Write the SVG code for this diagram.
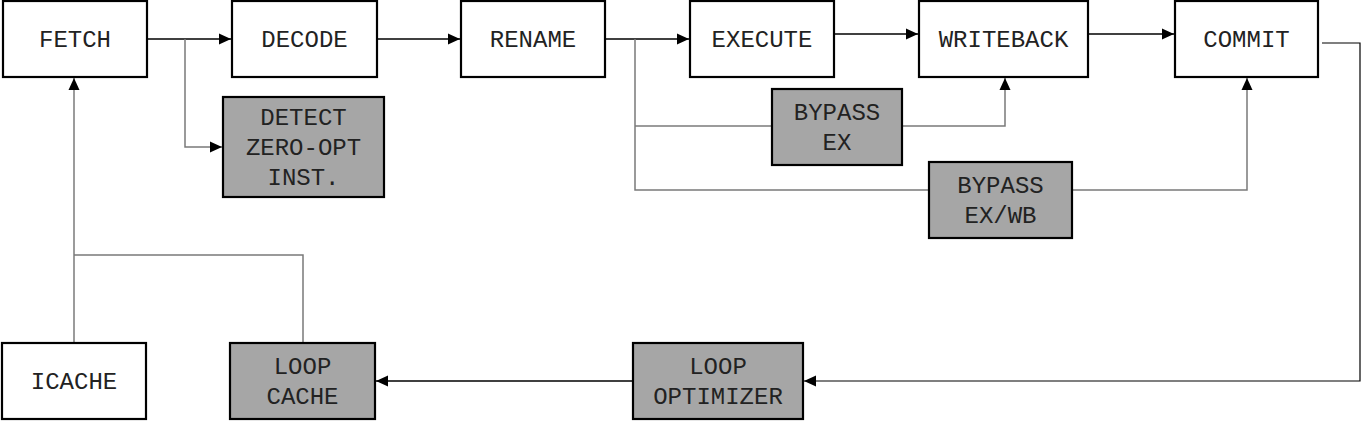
<svg xmlns="http://www.w3.org/2000/svg" width="1362" height="426" viewBox="0 0 1362 426">
<style>
.box{fill:#ffffff;stroke:#000000;stroke-width:2.2}
.opt{fill:#a6a6a6;stroke:#000000;stroke-width:2.2}
.lbl{font-family:"Liberation Mono","Courier New",monospace;font-size:24px;fill:#222222;text-anchor:middle}
.main{fill:none;stroke:#000000;stroke-width:1.5}
.side{fill:none;stroke:#7a7a7a;stroke-width:1.5}
.thin{fill:none;stroke:#000000;stroke-width:1.2}
</style>
<defs>
<marker id="ah" markerUnits="userSpaceOnUse" markerWidth="13" markerHeight="13" viewBox="0 0 13 13" refX="12" refY="6.5" orient="auto">
<path d="M0,1 L12,6.5 L0,12 Z" fill="#000000"/>
</marker>
</defs>
<g id="connectors">
<path class="main" d="M147,39 H231" marker-end="url(#ah)"/>
<path class="side" d="M185,39 V147 H222" marker-end="url(#ah)"/>
<path class="main" d="M377,39 H460" marker-end="url(#ah)"/>
<path class="main" d="M605,39 H689" marker-end="url(#ah)"/>
<path class="side" d="M635,39 V190 H929"/>
<path class="side" d="M635,126 H772"/>
<path class="side" d="M902,126 H1005 V78" marker-end="url(#ah)"/>
<path class="side" d="M1072,190 H1247 V78" marker-end="url(#ah)"/>
<path class="main" d="M834,34 H918" marker-end="url(#ah)"/>
<path class="main" d="M1088,34 H1174" marker-end="url(#ah)"/>
<path class="thin" d="M1322,43 H1360 V381 H804" marker-end="url(#ah)"/>
<path class="main" d="M633,381 H376" marker-end="url(#ah)"/>
<path class="side" d="M74,343 V78" marker-end="url(#ah)"/>
<path class="side" d="M303,343 V255 H74"/>
</g>
<g id="fetch"><rect class="box" x="3" y="1" width="144" height="76"/><text class="lbl" x="75" y="47">FETCH</text></g>
<g id="decode"><rect class="box" x="232" y="1" width="145" height="76"/><text class="lbl" x="304.5" y="47">DECODE</text></g>
<g id="rename"><rect class="box" x="461" y="1" width="144" height="76"/><text class="lbl" x="533" y="47">RENAME</text></g>
<g id="execute"><rect class="box" x="690" y="1" width="144" height="76"/><text class="lbl" x="762" y="47">EXECUTE</text></g>
<g id="writeback"><rect class="box" x="919" y="1" width="169" height="76"/><text class="lbl" x="1003.5" y="47">WRITEBACK</text></g>
<g id="commit"><rect class="box" x="1175" y="1" width="143" height="76"/><text class="lbl" x="1246.5" y="47">COMMIT</text></g>
<g id="detect"><rect class="opt" x="223" y="97" width="161" height="100"/><text class="lbl" x="303.5" y="125">DETECT</text><text class="lbl" x="303.5" y="155">ZERO-OPT</text><text class="lbl" x="303.5" y="185">INST.</text></g>
<g id="bypass-ex"><rect class="opt" x="772" y="89" width="130" height="76"/><text class="lbl" x="837" y="120">BYPASS</text><text class="lbl" x="837" y="150">EX</text></g>
<g id="bypass-exwb"><rect class="opt" x="929" y="162" width="143" height="76"/><text class="lbl" x="1000.5" y="193">BYPASS</text><text class="lbl" x="1000.5" y="223">EX/WB</text></g>
<g id="icache"><rect class="box" x="2" y="343" width="144" height="76"/><text class="lbl" x="74" y="389">ICACHE</text></g>
<g id="loop-cache"><rect class="opt" x="230" y="343" width="145" height="76"/><text class="lbl" x="302.5" y="374">LOOP</text><text class="lbl" x="302.5" y="404">CACHE</text></g>
<g id="loop-optimizer"><rect class="opt" x="633" y="343" width="170" height="76"/><text class="lbl" x="718" y="374">LOOP</text><text class="lbl" x="718" y="404">OPTIMIZER</text></g>
</svg>
